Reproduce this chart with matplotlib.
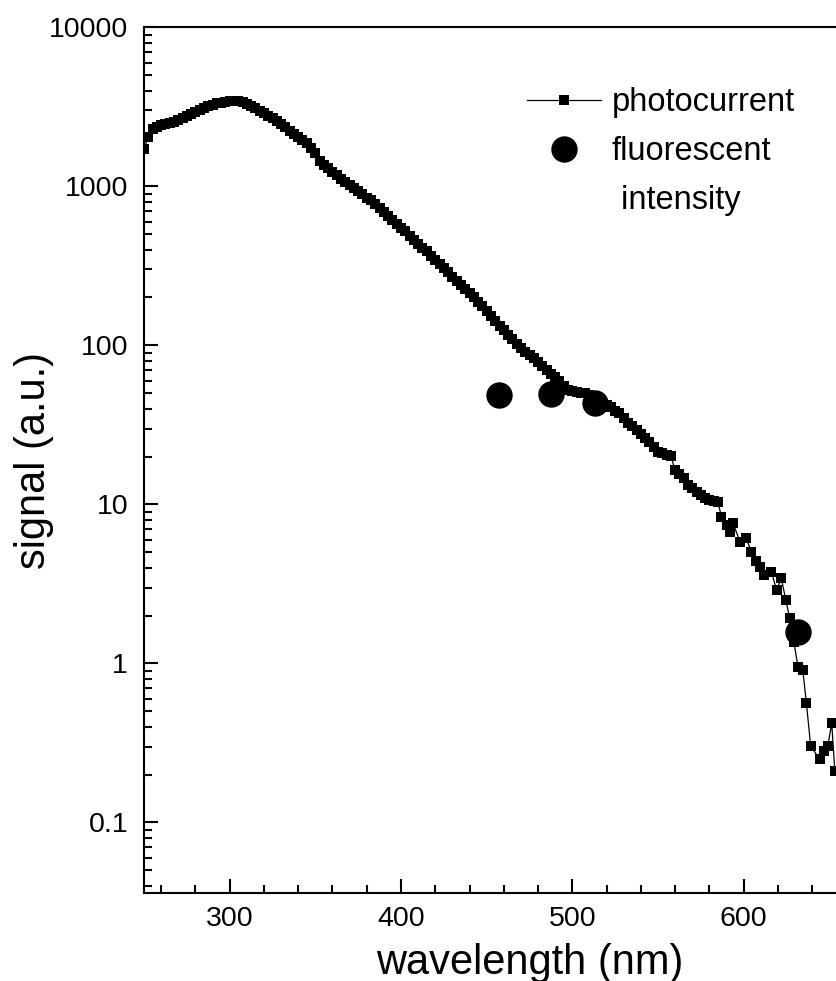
import matplotlib
matplotlib.use('Agg')
import matplotlib.pyplot as plt
from matplotlib.lines import Line2D
from matplotlib.ticker import MultipleLocator, FixedLocator, LogLocator, FuncFormatter, NullFormatter

plt.rcParams['font.family'] = ['Liberation Sans', 'DejaVu Sans']

# photocurrent spectrum
wl = [250, 252.5, 255, 257.5, 260, 262.5, 265, 267.5, 270, 272.5, 275, 277.5,
      280, 282.5, 285, 287.5, 290, 292.5, 295, 297.5, 300, 302.5, 305, 307.5,
      310, 312.5, 315, 317.5, 320, 322.5, 325, 327.5, 330, 332.5, 335, 337.5,
      340, 342.5, 345, 347.5, 350, 352.5, 355, 357.5, 360, 362.5, 365, 367.5,
      370, 372.5, 375, 377.5, 380, 382.5, 385, 387.5, 390, 392.5, 395, 397.5,
      400, 402.5, 405, 407.5, 410, 412.5, 415, 417.5, 420, 422.5, 425, 427.5,
      430, 432.5, 435, 437.5, 440, 442.5, 445, 447.5, 450, 452.5, 455, 457.5,
      460, 462.5, 465, 467.5, 470, 472.5, 475, 477.5, 480, 482.5, 485, 487.5,
      490, 492.5, 495, 497.5, 500, 502.5, 505, 507.5, 510, 512.5, 515, 517.5,
      520, 522.5, 525, 527.5, 530, 532.5, 535, 537.5, 540, 542.5, 545, 547.5,
      550, 552.5, 555, 557.5, 560, 562.5, 565, 567.5, 570, 572.5, 575, 577.5,
      580, 582.5, 585, 587, 590, 592, 593.8, 597.9, 601.6, 604.5, 607.3, 609.8,
      612, 616.2, 619.2, 622, 624.6, 626.9, 629.3, 631.7, 634.5, 636.6, 639.1,
      644.4, 646.7, 649.1, 651.4, 653.2]
photo = [1725, 2040, 2290, 2370, 2430, 2470, 2500, 2540, 2600, 2680, 2770, 2860,
         2950, 3030, 3120, 3200, 3270, 3320, 3365, 3405, 3430, 3445, 3430, 3375,
         3300, 3200, 3090, 2985, 2885, 2785, 2690, 2570, 2455, 2345, 2240, 2140,
         2040, 1950, 1860, 1740, 1620, 1440, 1370, 1300, 1230, 1175, 1120, 1070,
         1025, 980, 935, 890, 850, 815, 775, 735, 690, 655, 615, 580,
         550, 520, 490, 460, 435, 410, 390, 365, 345, 325, 305, 290,
         270, 255, 240, 225, 212, 200, 188, 176, 164, 153, 143, 133,
         124, 117, 110, 102, 96.5, 91, 87, 83, 78.5, 74, 70, 66,
         63, 59.5, 55.6, 52.5, 51.3, 50.7, 50.1, 50, 49, 46.2, 44.2, 42.7,
         42.2, 41.2, 38.9, 37.3, 34.7, 32.3, 30.9, 29.3, 27.9, 26.3, 24.8, 22.9,
         21.4, 20.9, 20.4, 20.2, 16.4, 15.5, 14.6, 13.2, 12.6, 11.9, 11.4, 11.0,
         10.7, 10.5, 10.35, 8.36, 7.41, 6.73, 7.6, 5.82, 6.11, 5.03, 4.4, 4.02,
         3.6, 3.77, 2.89, 3.42, 2.5, 1.92, 1.37, 0.95, 0.91, 0.565, 0.303,
         0.249, 0.282, 0.303, 0.42, 0.211]

# fluorescent intensity at the laser lines
fl_wl = [457, 487.5, 513, 632]
fl_int = [48.7, 49.4, 43.5, 1.58]

fig = plt.figure(figsize=(8.36, 9.81), dpi=100)
ax = fig.add_axes([144 / 836, 88 / 981, 771 / 836, 865.7 / 981])

ax.plot(wl, photo, color='black', lw=0.9, marker='s', ms=6.5,
        markeredgewidth=0, label='photocurrent')
ax.plot(fl_wl, fl_int, linestyle='none', marker='o', ms=18, color='black',
        label='fluorescent')

ax.set_yscale('log')
ax.set_xlim(250, 700)
ax.set_ylim(0.036, 10000)

ax.xaxis.set_major_locator(FixedLocator([300, 400, 500, 600]))
ax.xaxis.set_minor_locator(MultipleLocator(20))
ax.yaxis.set_major_locator(LogLocator(base=10, numticks=20))
ax.yaxis.set_minor_locator(LogLocator(base=10, subs=range(2, 10), numticks=20))
ax.yaxis.set_major_formatter(FuncFormatter(lambda v, p: '{:g}'.format(v)))
ax.yaxis.set_minor_formatter(NullFormatter())

ax.tick_params(which='both', direction='in', top=False, right=False, width=1.5)
ax.tick_params(which='major', length=10, labelsize=20.5)
ax.tick_params(which='minor', length=5.5)
ax.tick_params(axis='y', pad=11.5)
ax.tick_params(axis='x', pad=9)
for s in ax.spines.values():
    s.set_linewidth(1.5)

ax.set_xlabel('wavelength (nm)', fontsize=30, labelpad=8)
ax.set_ylabel('signal (a.u.)', fontsize=30)
ax.yaxis.set_label_coords(-0.117, 0.5)

handles = [
    Line2D([], [], color='black', lw=0.9, marker='s', ms=6.5, markeredgewidth=0),
    Line2D([], [], linestyle='none', marker='o', ms=18, color='black'),
    Line2D([], [], linestyle='none'),
]
labels = ['photocurrent', 'fluorescent', ' intensity']
ax.legend(handles, labels, loc='upper left', bbox_to_anchor=(527 / 836, 1 - 87 / 981),
          bbox_transform=fig.transFigure, frameon=False, fontsize=23.5,
          handlelength=2.27, handletextpad=0.33, labelspacing=0.55,
          borderpad=0, borderaxespad=0, numpoints=1)

fig.savefig('out.png', dpi=100)
